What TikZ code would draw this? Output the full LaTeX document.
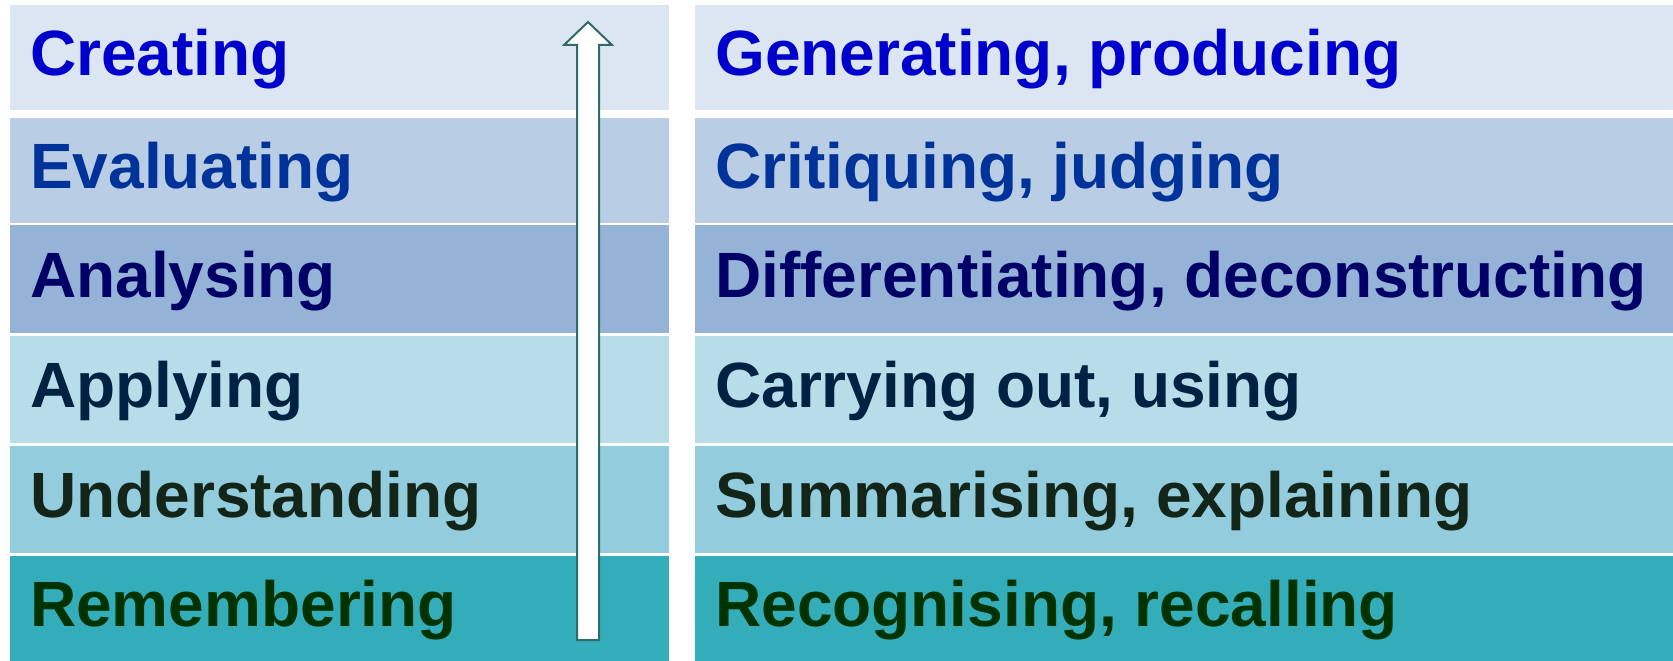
\documentclass[tikz,border=0pt]{standalone}
\usepackage{fontspec}
\setmainfont{Liberation Sans}
\usetikzlibrary{calc}

% band fills, light to dark
\definecolor{levA}{HTML}{DCE6F2}
\definecolor{levB}{HTML}{B9CDE5}
\definecolor{levC}{HTML}{95B3D7}
\definecolor{levD}{HTML}{B7DEE8}
\definecolor{levE}{HTML}{93CDDD}
\definecolor{levF}{HTML}{34ADBB}
% lettering
\definecolor{txtA}{HTML}{0000CC}
\definecolor{txtB}{HTML}{003399}
\definecolor{txtC}{HTML}{000066}
\definecolor{txtD}{HTML}{002142}
\definecolor{txtE}{HTML}{132518}
\definecolor{txtF}{HTML}{003300}
\definecolor{arrowteal}{HTML}{2F6B66}

\begin{document}
\begin{tikzpicture}[x=1pt,y=-1pt,
			band/.style={rectangle,inner sep=0pt,outer sep=0pt,anchor=north west},
			word/.style={anchor=base west,inner sep=0pt,
				font=\fontsize{64}{64}\selectfont\bfseries},
			blockarrow/.style={draw=arrowteal,fill=white,line width=2pt}]
			
			\useasboundingbox (0,0) rectangle (1673,661);
			
			% The six levels (top y / bottom y / fill / text colour / level / verbs)
			\foreach \i/\top/\bot/\fc/\tc/\lvl/\act in {
				1/5/110/levA/txtA/Creating/{Generating, producing},
				2/118/223/levB/txtB/Evaluating/{Critiquing, judging},
				3/225/333/levC/txtC/Analysing/{Differentiating, deconstructing},
				4/336/443/levD/txtD/Applying/{Carrying out, using},
				5/446/553/levE/txtE/Understanding/{Summarising, explaining},
				6/556/661/levF/txtF/Remembering/{Recognising, recalling}} {
				\pgfmathsetmacro{\h}{\bot-\top}
				\node[band,fill=\fc,minimum width=659pt,minimum height=\h pt]
				(L\i) at (10,\top) {};
				\node[band,fill=\fc,minimum width=978pt,minimum height=\h pt]
				(R\i) at (695,\top) {};
				\node[word,text=\tc] (l\i) at ([xshift=20pt,yshift=-18pt]L\i.west) {\lvl};
				\node[word,text=\tc] (r\i) at ([xshift=20pt,yshift=-18pt]R\i.west) {\act};
			}
			
			% Upward block arrow in the left column
			\coordinate (foot) at (588,640);
			\coordinate (tip) at (588,22);
			\draw[blockarrow] (foot) ++(-11,0) -- ++(22,0) -- ++(0,-595)
			-- ++(13,0) -- (tip) -- ++(-24,23) -- ++(13,0) -- cycle;
			
		\end{tikzpicture}
\end{document}
